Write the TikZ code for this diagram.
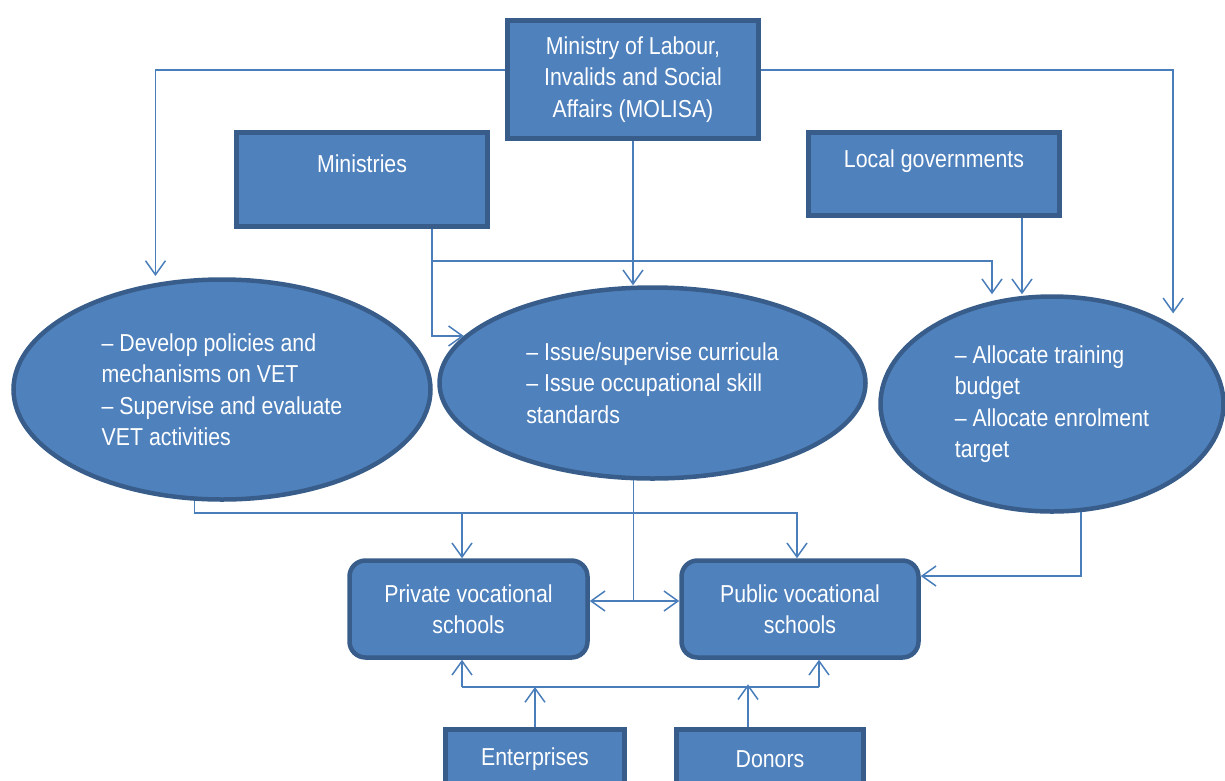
\documentclass[tikz,border=0pt]{standalone}
\usepackage{fontspec}
\setmainfont{Liberation Sans}[FakeStretch=0.87]
\usetikzlibrary{shapes.geometric,arrows.meta}
\definecolor{boxfill}{HTML}{4F81BD}
\definecolor{boxline}{HTML}{385D8A}
\definecolor{linkline}{HTML}{4A7EBB}

\begin{document}
\begin{tikzpicture}[x=1pt,y=1pt,
        every node/.style={inner sep=0pt,text=white,font=\fontsize{24.5}{31.5}\selectfont},
        box/.style={rectangle,draw=boxline,fill=boxfill,line width=4.5pt,align=center},
        rbox/.style={box,rounded corners=16pt},
        task/.style={ellipse,draw=boxline,fill=boxfill,line width=4.5pt,align=left},
        wire/.style={draw=linkline,line width=1.5pt},
        feed/.style={wire,-{Straight Barb[length=14pt,width=20pt]}}]
        \useasboundingbox (0,0) rectangle (1225,-780);
        \node [box,minimum width=251pt,minimum height=118pt] (molisa) at (633,-79.5) {Ministry of Labour,\\Invalids and Social\\Affairs (MOLISA)};
        \node [box,minimum width=251pt,minimum height=94pt] (mins) at (362,-179.5) {Ministries\\\mbox{}};
        \node [box,minimum width=251pt,minimum height=83pt] (loc) at (934,-174) {Local governments\\\mbox{}};
        \node [task,minimum width=417pt,minimum height=220pt] (left) at (222,-389.5) {– Develop policies and\\mechanisms on VET\\– Supervise and evaluate\\VET activities};
        \node [task,minimum width=426pt,minimum height=191pt] (mid) at (652.5,-383) {– Issue/supervise curricula\\– Issue occupational skill\\standards};
        \node [task,minimum width=343pt,minimum height=215pt] (rgt) at (1052,-404) {– Allocate training\\budget\\– Allocate enrolment\\target};
        \node [rbox,minimum width=238pt,minimum height=97pt] (priv) at (468.5,-609) {Private vocational\\schools};
        \node [rbox,minimum width=237pt,minimum height=97pt] (pub) at (800,-609) {Public vocational\\schools};
        \node [box,minimum width=179pt,minimum height=59pt] (ent) at (535,-759) {Enterprises};
        \node [box,minimum width=187pt,minimum height=59pt] (don) at (770,-759) {Donors};
        % MOLISA
        \draw [feed,shorten >=7pt] ([yshift=9.5pt]molisa.west) -| (left.122);
        \draw [feed] (molisa.south) -- (molisa.south |- mid.north);
        \draw [feed,shorten >=12pt] ([yshift=9.5pt]molisa.east) -| (rgt.33);
        % Ministries, local governments
        \coordinate (mjoin) at (432,-261);
        \draw [feed] ([xshift=70pt]mins.south) |- (mid.166);
        \draw [feed] (mjoin) -| ([xshift=-60pt]rgt.north);
        \draw [feed] ([xshift=88pt]loc.south) -- ([xshift=-30pt]rgt.north);
        % down to the schools
        \coordinate (lbus) at (797,-513);
        \coordinate (lbr) at (462,-513);
        \draw [feed] (left.-104) |- (lbus) -- (lbus |- pub.north);
        \draw [feed] (lbr) -- (lbr |- priv.north);
        \draw [feed] (mid.-101) |- ([yshift=8pt]priv.east);
        \draw [feed] (mid.-101) |- ([yshift=8pt]pub.west);
        \draw [feed] (rgt.-75) |- ([yshift=33pt]pub.east);
        % enterprises, donors
        \coordinate (bl) at (462,-687);
        \coordinate (br) at (819,-687);
        \draw [wire] (bl) -- (br);
        \draw [feed] (bl) -- (bl |- priv.south);
        \draw [feed] (br) -- (br |- pub.south);
        \draw [feed] (ent.north) -- (ent.north |- bl);
        \draw [feed] ([xshift=-22pt]don.north) -- ++(0,43);
\end{tikzpicture}
\end{document}
